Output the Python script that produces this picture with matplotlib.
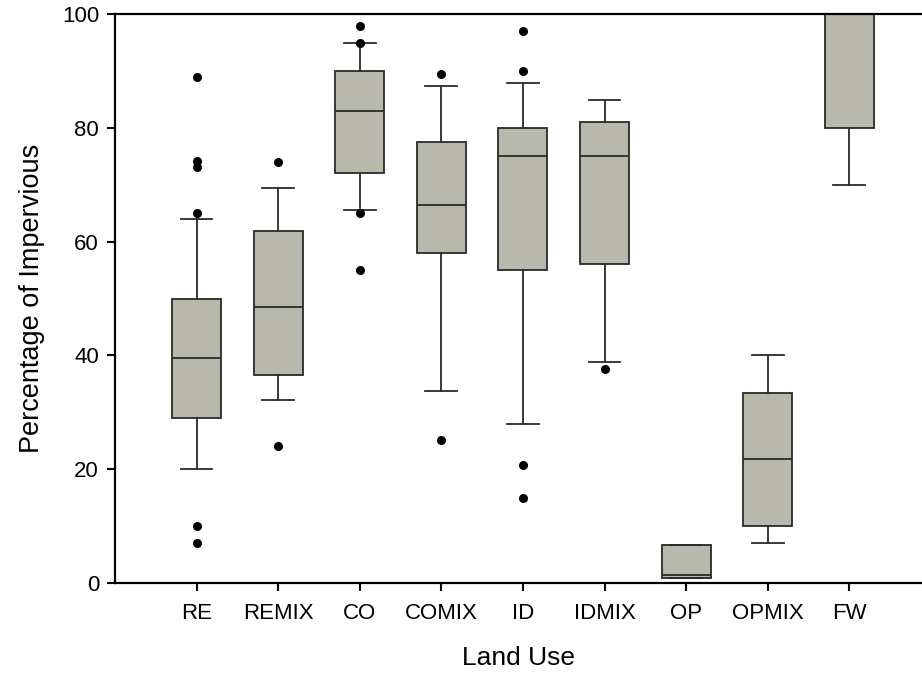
import matplotlib
matplotlib.use("Agg")
import matplotlib.pyplot as plt

# land-use classes and box statistics (percent impervious)
land_use = ["RE", "REMIX", "CO", "COMIX", "ID", "IDMIX", "OP", "OPMIX", "FW"]
medians = [39.5, 48.5, 83.0, 66.4, 75.0, 75.0, 1.4, 21.8, 100.0]
q1 = [29.0, 36.5, 72.0, 58.0, 55.0, 56.0, 0.9, 10.0, 80.0]
q3 = [50.0, 61.9, 90.0, 77.5, 80.0, 81.0, 6.7, 33.4, 100.0]
whisker_lo = [20.0, 32.1, 65.6, 33.8, 27.9, 38.8, 0.9, 7.0, 70.0]
whisker_hi = [64.0, 69.4, 94.9, 87.3, 87.9, 84.9, 6.7, 40.0, 100.0]
outliers = [
    [89.0, 74.2, 73.1, 65.1, 10.1, 7.1],
    [74.1, 24.1],
    [98.0, 95.0, 65.1, 55.1],
    [89.5, 25.1],
    [97.0, 90.0, 20.7, 15.0],
    [37.6],
    [],
    [],
    [],
]

plt.rcParams["font.family"] = ["Liberation Sans", "DejaVu Sans"]

stats = []
for i, name in enumerate(land_use):
    stats.append({
        "label": name,
        "med": medians[i],
        "q1": q1[i],
        "q3": q3[i],
        "whislo": whisker_lo[i],
        "whishi": whisker_hi[i],
        "fliers": outliers[i],
    })

fig = plt.figure(figsize=(9.22, 6.75), dpi=100)
ax = fig.add_axes([0.1247, 0.1363, 1.0 - 0.1247, 0.979 - 0.1363])

edge = "#2a2a2a"
ax.bxp(
    stats,
    positions=range(1, len(land_use) + 1),
    widths=0.6,
    patch_artist=True,
    showfliers=True,
    boxprops=dict(facecolor="#b8b8ab", edgecolor=edge, linewidth=1.3),
    medianprops=dict(color=edge, linewidth=1.3),
    whiskerprops=dict(color=edge, linewidth=1.3),
    capprops=dict(color=edge, linewidth=1.3),
    capwidths=0.39,
    flierprops=dict(marker="o", markersize=5.5, markerfacecolor="black",
                    markeredgecolor="black"),
)

ax.set_xlim(0, 9.89)
ax.set_ylim(0, 100)
ax.set_yticks([0, 20, 40, 60, 80, 100])
ax.set_xticks(range(1, len(land_use) + 1))
ax.set_xticklabels(land_use)

ax.spines["right"].set_visible(False)
for side in ["left", "top", "bottom"]:
    ax.spines[side].set_linewidth(1.6)
ax.tick_params(direction="out", length=5.5, width=1.5, labelsize=16)
ax.tick_params(axis="x", pad=9)
ax.tick_params(axis="y", pad=6)

ax.set_xlabel("Land Use", fontsize=19, labelpad=16)
ax.set_ylabel("Percentage of Impervious", fontsize=19.5, labelpad=12)

fig.savefig("out.png", dpi=100)
